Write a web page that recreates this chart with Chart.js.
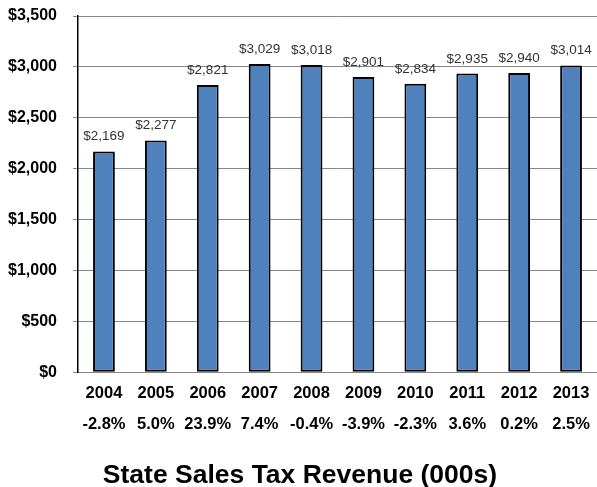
<!DOCTYPE html>
<html>
<head>
<meta charset="utf-8">
<script src="https://cdn.jsdelivr.net/npm/chart.js@4.4.1/dist/chart.umd.min.js"></script>
<style>
  html, body { margin: 0; padding: 0; background: #fff; }
  canvas { display: block; }
</style>
</head>
<body>
<canvas id="chart" width="597" height="487"></canvas>
<script>
const years = ['2004', '2005', '2006', '2007', '2008', '2009', '2010', '2011', '2012', '2013'];
const changes = ['-2.8%', '5.0%', '23.9%', '7.4%', '-0.4%', '-3.9%', '-2.3%', '3.6%', '0.2%', '2.5%'];
const revenue = [2169, 2277, 2821, 3029, 3018, 2901, 2834, 2935, 2940, 3014];
const yTicks = [0, 500, 1000, 1500, 2000, 2500, 3000, 3500];

const FONT = "Arial, 'Liberation Sans', sans-serif";

function money(v) {
    return '$' + v.toLocaleString('en-US');
}

// value labels above each bar
const barLabels = {
    id: 'barLabels',
    afterDatasetsDraw(chart) {
        const ctx = chart.ctx;
        const meta = chart.getDatasetMeta(0);
        ctx.save();
        ctx.font = '13.5px ' + FONT;
        ctx.fillStyle = '#333';
        ctx.textAlign = 'center';
        ctx.textBaseline = 'alphabetic';
        meta.data.forEach((bar, i) => {
            ctx.fillText(money(revenue[i]), bar.x, bar.y - 11);
        });
        ctx.restore();
    }
};

new Chart(document.getElementById('chart'), {
    type: 'bar',
    data: {
        labels: years.map((y, i) => [y, changes[i]]),
        datasets: [{
            data: revenue,
            backgroundColor: '#4F81BD',
            borderColor: '#000',
            borderWidth: 2,
            borderSkipped: false,
            barPercentage: 0.42,
            categoryPercentage: 1
        }]
    },
    options: {
        responsive: false,
        animation: false,
        layout: { padding: { top: 16, left: 0, right: -3, bottom: 0 } },
        plugins: {
            legend: { display: false },
            tooltip: { enabled: false },
            title: {
                display: true,
                position: 'bottom',
                text: 'State Sales Tax Revenue (000s)',
                color: '#000',
                font: { family: FONT, size: 26.5, weight: 'bold', lineHeight: 1.2 },
                padding: { top: 25, bottom: -5 }
            }
        },
        scales: {
            x: {
                grid: { display: false },
                border: { display: true, color: '#888', width: 1 },
                ticks: {
                    color: '#000',
                    font: { family: FONT, size: 16.5, weight: 'bold', lineHeight: 1.85 },
                    padding: -2,
                    maxRotation: 0,
                    autoSkip: false
                },
                afterFit(s) { s.height = 63; }
            },
            y: {
                min: 0,
                max: 3500,
                afterBuildTicks(s) { s.ticks = yTicks.map(v => ({ value: v })); },
                grid: { color: '#888', lineWidth: 1, tickLength: 5, tickColor: '#888' },
                border: { display: true, color: '#000', width: 1.5 },
                ticks: {
                    color: '#000',
                    font: { family: FONT, size: 16, weight: 'bold' },
                    padding: 16,
                    callback: v => money(v)
                },
                afterFit(s) {
                    s.width = 78;
                    s.paddingTop = 0;
                    s.paddingBottom = 0;
                }
            }
        }
    },
    plugins: [barLabels]
});
</script>
</body>
</html>
